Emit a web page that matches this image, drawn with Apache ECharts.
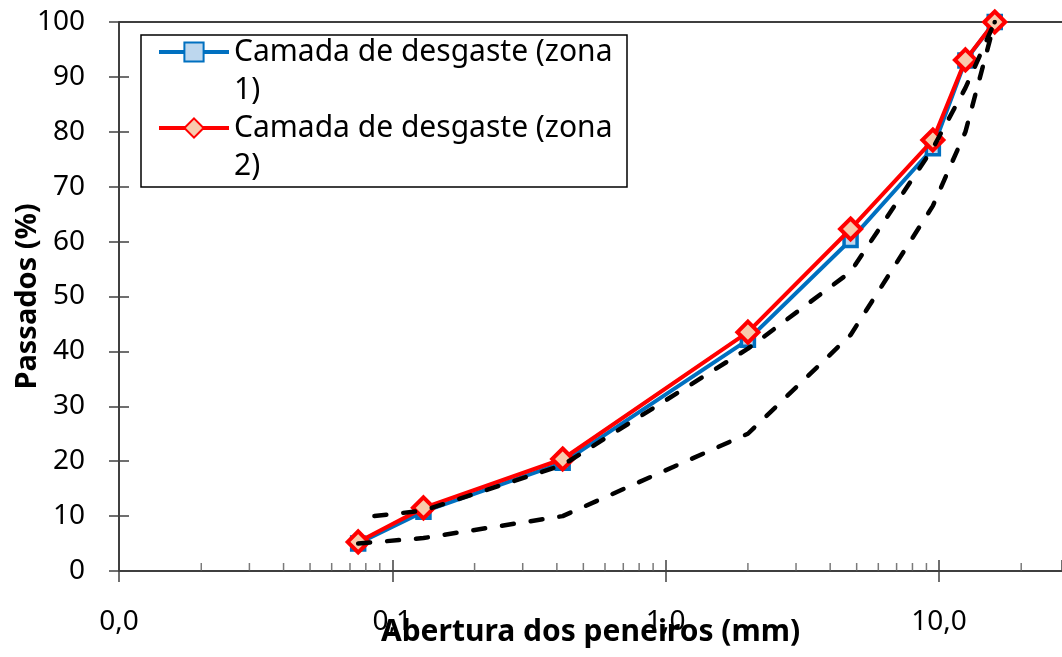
<!DOCTYPE html>
<html>
<head>
<meta charset="utf-8">
<title>Curvas granulométricas</title>
<script src="https://cdn.jsdelivr.net/npm/echarts@6/dist/echarts.min.js"></script>
<style>
  html, body { margin: 0; padding: 0; background: #ffffff; }
  #chart { width: 1062px; height: 657px; }
</style>
</head>
<body>
<div id="chart"></div>
<script>
// Sieve openings (mm) and percentage passing for each curve
const sieves = [0.075, 0.13, 0.42, 2.0, 4.75, 9.5, 12.5, 16];
const zona1 = [5.0, 10.8, 19.7, 42.1, 60.3, 77.0, 93.0, 100];
const zona2 = [5.3, 11.5, 20.4, 43.5, 62.3, 78.5, 93.1, 100];

// Specification envelope (dashed)
const upperSieves = [0.086, 0.13, 0.42, 2.0, 4.75, 9.5, 12.5, 16];
const upperLimit = [10, 11, 19.3, 40.5, 54.5, 77, 88, 100];
const lowerSieves = [0.075, 0.13, 0.42, 2.0, 4.75, 9.5, 12.5, 16];
const lowerLimit = [5, 6, 10, 25, 43, 66.5, 80, 100];

// Log axis labels and minor tick positions
const xTickValues = [0.01, 0.1, 1, 10];
const xTickLabels = ['0,0', '0,1', '1,0', '10,0'];
const xMinorTicks = [
  0.02, 0.03, 0.04, 0.05, 0.06, 0.07, 0.08, 0.09,
  0.2, 0.3, 0.4, 0.5, 0.6, 0.7, 0.8, 0.9,
  2, 3, 4, 5, 6, 7, 8, 9,
  20
];

const serieNames = ['Camada de desgaste (zona 1)', 'Camada de desgaste (zona 2)'];

const FONT = "'Noto Sans', 'Open Sans', sans-serif";
const X_MIN = 0.01, X_MAX = 28.2;

function pairs(xs, ys) { return xs.map((x, i) => [x, ys[i]]); }

function xLabel(v) {
  for (let i = 0; i < xTickValues.length; i++) {
    if (Math.abs(Math.log10(v) - Math.log10(xTickValues[i])) < 1e-6) return xTickLabels[i];
  }
  return '';
}
function isMajor(v) { return xLabel(v) !== ''; }

const chart = echarts.init(document.getElementById('chart'), null, { renderer: 'canvas' });

// Legend entries wrap after "(zona"; a leading blank line keeps the
// icon level with the first text line.
const legendCommon = {
  orient: 'vertical',
  left: 157,
  padding: 0,
  itemWidth: 70,
  itemHeight: 24,
  itemGap: 0,
  z: 6,
  lineStyle: { width: 4 },
  formatter: n => '\n' + n.replace(/ (\S+)$/, '\n$1'),
  textStyle: {
    fontFamily: FONT,
    fontSize: 30,
    color: '#000',
    lineHeight: 38
  }
};

const dashStyle = { color: '#000', width: 4.5, type: [12, 17], cap: 'round' };

const option = {
  animation: false,
  backgroundColor: '#ffffff',
  grid: { left: 119, right: 0, top: 22, bottom: 86, containLabel: false, outerBoundsMode: 'none' },
  graphic: [{
    type: 'rect',
    z: 5,
    shape: { x: 141, y: 35, width: 486, height: 152 },
    style: { fill: '#ffffff', stroke: '#000000', lineWidth: 1.5 }
  }],
  legend: [
    Object.assign({}, legendCommon, { data: [serieNames[0]], top: -5 }),
    Object.assign({}, legendCommon, { data: [serieNames[1]], top: 71 })
  ],
  xAxis: [
    {
      type: 'log', logBase: 10, min: X_MIN, max: X_MAX, position: 'bottom',
      axisLine: { show: true, lineStyle: { color: '#000', width: 1.5 } },
      axisTick: { show: true, inside: false, length: 11, interval: (i, v) => isMajor(v),
                  lineStyle: { color: '#404040', width: 1.5 } },
      axisLabel: { show: true, margin: 37, formatter: v => xLabel(v),
                   fontFamily: FONT, fontSize: 28, color: '#000',
                   showMinLabel: true, showMaxLabel: false },
      splitLine: { show: false },
      name: 'Abertura dos peneiros (mm)',
      nameLocation: 'middle',
      nameGap: 46,
      nameMoveOverlap: false,
      nameTextStyle: { fontFamily: FONT, fontSize: 30, fontWeight: 'bold', color: '#000' }
    },
    {
      type: 'log', logBase: 10, min: X_MIN, max: X_MAX, position: 'bottom', offset: 0,
      axisLine: { show: false },
      axisTick: { show: true, inside: true, length: 11, interval: (i, v) => isMajor(v),
                  lineStyle: { color: '#404040', width: 1.5 } },
      axisLabel: { show: false },
      splitLine: { show: false }
    },
    {
      type: 'log', logBase: 10, min: X_MIN, max: X_MAX, position: 'top',
      axisLine: { show: true, lineStyle: { color: '#000', width: 1.5 } },
      axisTick: { show: false },
      axisLabel: { show: false },
      splitLine: { show: false }
    }
  ],
  yAxis: [
    {
      type: 'value', min: 0, max: 100, interval: 10, position: 'left',
      axisLine: { show: true, lineStyle: { color: '#000', width: 1.5 } },
      axisTick: { show: true, inside: false, length: 10, lineStyle: { color: '#404040', width: 1.5 } },
      axisLabel: { margin: 34, fontFamily: FONT, fontSize: 28, color: '#000' },
      splitLine: { show: false },
      name: 'Passados (%)',
      nameLocation: 'middle',
      nameGap: 77,
      nameMoveOverlap: false,
      nameTextStyle: { fontFamily: FONT, fontSize: 29, fontWeight: 'bold', color: '#000' }
    },
    {
      type: 'value', min: 0, max: 100, interval: 10, position: 'left', offset: 0,
      axisLine: { show: false },
      axisTick: { show: true, inside: true, length: 10, lineStyle: { color: '#404040', width: 1.5 } },
      axisLabel: { show: false },
      splitLine: { show: false }
    }
  ],
  series: [
    {
      name: 'minor-ticks',
      type: 'scatter',
      xAxisIndex: 0, yAxisIndex: 0,
      data: xMinorTicks.map(v => [v, 0]),
      symbol: 'rect',
      symbolSize: [1.5, 8],
      symbolOffset: [0, -4],
      itemStyle: { color: '#595959' },
      silent: true,
      clip: false,
      z: 1
    },
    {
      name: serieNames[0],
      type: 'line',
      data: pairs(sieves, zona1),
      symbol: 'rect',
      symbolSize: 13,
      lineStyle: { color: '#0070C0', width: 4 },
      itemStyle: { color: '#BDD7EE', borderColor: '#0070C0', borderWidth: 3.5 },
      z: 2
    },
    {
      name: serieNames[1],
      type: 'line',
      data: pairs(sieves, zona2),
      symbol: 'diamond',
      symbolSize: 21,
      lineStyle: { color: '#FF0000', width: 4 },
      itemStyle: { color: '#F8CBAD', borderColor: '#FF0000', borderWidth: 4 },
      z: 3
    },
    {
      name: 'Limite superior',
      type: 'line',
      data: pairs(upperSieves, upperLimit),
      symbol: 'none',
      lineStyle: dashStyle,
      silent: true,
      z: 4
    },
    {
      name: 'Limite inferior',
      type: 'line',
      data: pairs(lowerSieves, lowerLimit),
      symbol: 'none',
      lineStyle: dashStyle,
      silent: true,
      z: 4
    }
  ]
};

chart.setOption(option);
</script>
</body>
</html>
